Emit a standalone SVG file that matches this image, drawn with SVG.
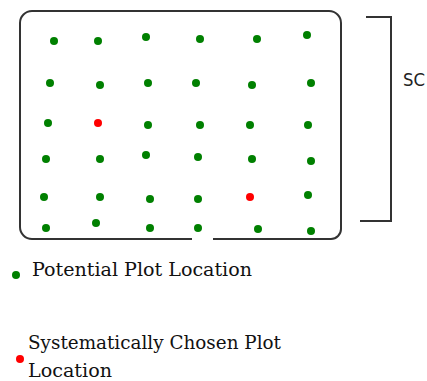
<svg xmlns="http://www.w3.org/2000/svg" width="427" height="381" viewBox="0 0 427 381">
  <style>
    .frame { fill: none; stroke: #333; stroke-width: 2; }
    .pot { fill: #008000; }
    .chosen { fill: #ff0000; }
    .legend { font-family: "DejaVu Serif", "Liberation Serif", serif; font-size: 18.5px; fill: #111; }
    .sc { font-family: "DejaVu Sans", "Liberation Sans", sans-serif; font-size: 17px; fill: #222; }
  </style>
  <defs>
    <circle id="dot" r="4"/>
  </defs>

  <!-- study area boundary with an opening along the bottom edge -->
  <g id="boundary">
    <path class="frame" d="M192,239 H32 A12,12 0 0 1 20,227 V23 A12,12 0 0 1 32,11 H329 A12,12 0 0 1 341,23 V229 A10,10 0 0 1 331,239 H213"/>
  </g>

  <!-- grid of potential plot locations -->
  <g id="plots">
    <use href="#dot" class="pot" x="54" y="41"/>
    <use href="#dot" class="pot" x="98" y="41"/>
    <use href="#dot" class="pot" x="146" y="37"/>
    <use href="#dot" class="pot" x="200" y="39"/>
    <use href="#dot" class="pot" x="257" y="39"/>
    <use href="#dot" class="pot" x="307" y="35"/>

    <use href="#dot" class="pot" x="50" y="83"/>
    <use href="#dot" class="pot" x="100" y="85"/>
    <use href="#dot" class="pot" x="148" y="83"/>
    <use href="#dot" class="pot" x="196" y="83"/>
    <use href="#dot" class="pot" x="252" y="85"/>
    <use href="#dot" class="pot" x="311" y="83"/>

    <use href="#dot" class="pot" x="48" y="123"/>
    <use href="#dot" class="chosen" x="98" y="123"/>
    <use href="#dot" class="pot" x="148" y="125"/>
    <use href="#dot" class="pot" x="200" y="125"/>
    <use href="#dot" class="pot" x="250" y="125"/>
    <use href="#dot" class="pot" x="308" y="125"/>

    <use href="#dot" class="pot" x="46" y="159"/>
    <use href="#dot" class="pot" x="100" y="159"/>
    <use href="#dot" class="pot" x="146" y="155"/>
    <use href="#dot" class="pot" x="198" y="157"/>
    <use href="#dot" class="pot" x="252" y="159"/>
    <use href="#dot" class="pot" x="311" y="161"/>

    <use href="#dot" class="pot" x="44" y="197"/>
    <use href="#dot" class="pot" x="100" y="197"/>
    <use href="#dot" class="pot" x="150" y="199"/>
    <use href="#dot" class="pot" x="198" y="199"/>
    <use href="#dot" class="chosen" x="250" y="197"/>
    <use href="#dot" class="pot" x="308" y="195"/>

    <use href="#dot" class="pot" x="46" y="228"/>
    <use href="#dot" class="pot" x="96" y="223"/>
    <use href="#dot" class="pot" x="150" y="228"/>
    <use href="#dot" class="pot" x="198" y="228"/>
    <use href="#dot" class="pot" x="258" y="229"/>
    <use href="#dot" class="pot" x="311" y="231"/>
  </g>

  <!-- bracket marking the SC extent -->
  <g id="sc-bracket">
    <path class="frame" d="M366,17 H391 V221 H360"/>
    <text class="sc" x="403" y="86" textLength="22" lengthAdjust="spacingAndGlyphs">SC</text>
  </g>

  <!-- legend -->
  <g id="legend-potential">
    <use href="#dot" class="pot" x="16" y="275"/>
    <text class="legend" x="32" y="276" textLength="220" lengthAdjust="spacingAndGlyphs">Potential Plot Location</text>
  </g>
  <g id="legend-chosen">
    <use href="#dot" class="chosen" x="20" y="359"/>
    <text class="legend" x="28" y="349" textLength="253" lengthAdjust="spacingAndGlyphs">Systematically Chosen Plot</text>
    <text class="legend" x="28" y="377" textLength="84" lengthAdjust="spacingAndGlyphs">Location</text>
  </g>
</svg>
